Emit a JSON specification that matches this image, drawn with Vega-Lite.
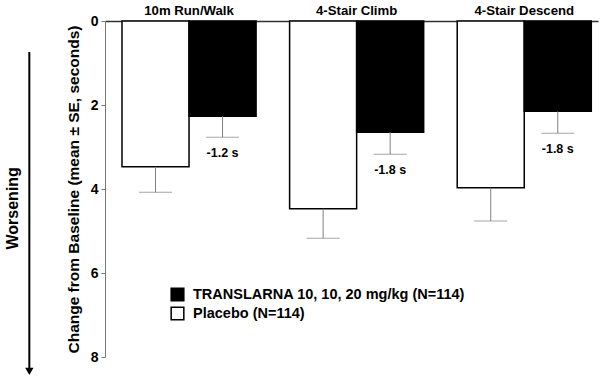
{
  "$schema": "https://vega.github.io/schema/vega-lite/v6.json",
  "autosize": "none",
  "width": 493,
  "height": 336,
  "padding": {"left": 105, "top": 21, "right": 7, "bottom": 25},
  "background": "white",
  "config": {
    "font": "Liberation Sans",
    "view": {"stroke": null}
  },
  "datasets": {
    "bars": [
      {"test": "10m Run/Walk", "group": "Placebo (N=114)", "mean": 3.47, "hi": 4.08, "label": ""},
      {"test": "10m Run/Walk", "group": "TRANSLARNA 10, 10, 20 mg/kg (N=114)", "mean": 2.27, "hi": 2.77, "label": "-1.2 s"},
      {"test": "4-Stair Climb", "group": "Placebo (N=114)", "mean": 4.47, "hi": 5.17, "label": ""},
      {"test": "4-Stair Climb", "group": "TRANSLARNA 10, 10, 20 mg/kg (N=114)", "mean": 2.65, "hi": 3.17, "label": "-1.8 s"},
      {"test": "4-Stair Descend", "group": "Placebo (N=114)", "mean": 3.97, "hi": 4.76, "label": ""},
      {"test": "4-Stair Descend", "group": "TRANSLARNA 10, 10, 20 mg/kg (N=114)", "mean": 2.15, "hi": 2.67, "label": "-1.8 s"}
    ],
    "arrow": [
      {"ax": -0.1535, "y0": 0.74, "y1": 8.3, "tip": 8.34, "tx": -0.187, "ty": 4.46, "text": "Worsening"}
    ]
  },
  "resolve": {"scale": {"x": "independent"}, "axis": {"x": "independent"}},
  "layer": [
    {
      "data": {"name": "bars"},
      "encoding": {
        "x": {
          "field": "test", "type": "nominal", "sort": null,
          "scale": {"paddingInner": 0.2, "paddingOuter": 0.0707, "align": 0.717},
          "axis": {"orient": "top", "title": null, "ticks": false, "labelAngle": 0,
                   "labelFont": "Liberation Sans", "labelFontWeight": "bold", "labelFontSize": 13.2,
                   "labelColor": "black", "labelPadding": 4, "domainColor": "#333", "domainWidth": 1.5}
        },
        "xOffset": {"field": "group", "type": "nominal", "sort": ["Placebo (N=114)", "TRANSLARNA 10, 10, 20 mg/kg (N=114)"], "scale": {"paddingInner": 0, "paddingOuter": 0}}
      },
      "layer": [
        {
          "mark": {"type": "bar", "stroke": "black", "strokeWidth": 1.5},
          "encoding": {
            "y": {
              "field": "mean", "type": "quantitative",
              "scale": {"domain": [0, 8], "reverse": true, "nice": false, "zero": true},
              "axis": {"values": [0, 2, 4, 6, 8], "grid": false, "title": "Change from Baseline (mean ± SE, seconds)",
                       "titleFontSize": 15.5, "titleFontWeight": "bold", "titleColor": "black", "titlePadding": 9,
                       "labelFontSize": 14, "labelFontWeight": "bold", "labelColor": "black", "labelPadding": 3,
                       "tickSize": 4, "tickColor": "#777", "domainColor": "#777", "domainWidth": 1}
            },
            "fill": {
              "field": "group", "type": "nominal",
              "scale": {"domain": ["TRANSLARNA 10, 10, 20 mg/kg (N=114)", "Placebo (N=114)"], "range": ["black", "white"]},
              "legend": {"title": null, "orient": "none", "legendX": 65, "legendY": 266,
                         "symbolType": "square", "symbolSize": 160, "symbolStrokeColor": "black", "symbolStrokeWidth": 1.5,
                         "labelFontSize": 14.5, "labelFontWeight": "bold", "labelColor": "black", "rowPadding": 0, "labelOffset": 8, "labelLimit": 400}
            }
          }
        },
        {
          "mark": {"type": "rule", "color": "#808080", "strokeWidth": 1},
          "encoding": {
            "y": {"field": "mean", "type": "quantitative"},
            "y2": {"field": "hi"}
          }
        },
        {
          "mark": {"type": "tick", "color": "#808080", "thickness": 1, "size": 33, "orient": "horizontal"},
          "encoding": {
            "y": {"field": "hi", "type": "quantitative"}
          }
        },
        {
          "mark": {"type": "text", "baseline": "top", "dy": 10, "fontSize": 12.5, "fontWeight": "bold", "color": "black"},
          "encoding": {
            "y": {"field": "hi", "type": "quantitative"},
            "text": {"field": "label"}
          }
        }
      ]
    },
    {
      "data": {"name": "arrow"},
      "encoding": {
        "x": {"field": "ax", "type": "quantitative", "scale": {"domain": [0, 1]}, "axis": null}
      },
      "layer": [
        {
          "mark": {"type": "rule", "color": "black", "strokeWidth": 2},
          "encoding": {
            "y": {"field": "y0", "type": "quantitative"},
            "y2": {"field": "y1"}
          }
        },
        {
          "mark": {"type": "point", "shape": "triangle-down", "filled": true, "color": "black", "size": 70, "opacity": 1},
          "encoding": {
            "y": {"field": "tip", "type": "quantitative"}
          }
        },
        {
          "mark": {"type": "text", "angle": 270, "fontSize": 16, "fontWeight": "bold", "color": "black", "baseline": "middle", "align": "center"},
          "encoding": {
            "x": {"field": "tx", "type": "quantitative", "scale": {"domain": [0, 1]}, "axis": null},
            "y": {"field": "ty", "type": "quantitative"},
            "text": {"field": "text"}
          }
        }
      ]
    }
  ]
}
